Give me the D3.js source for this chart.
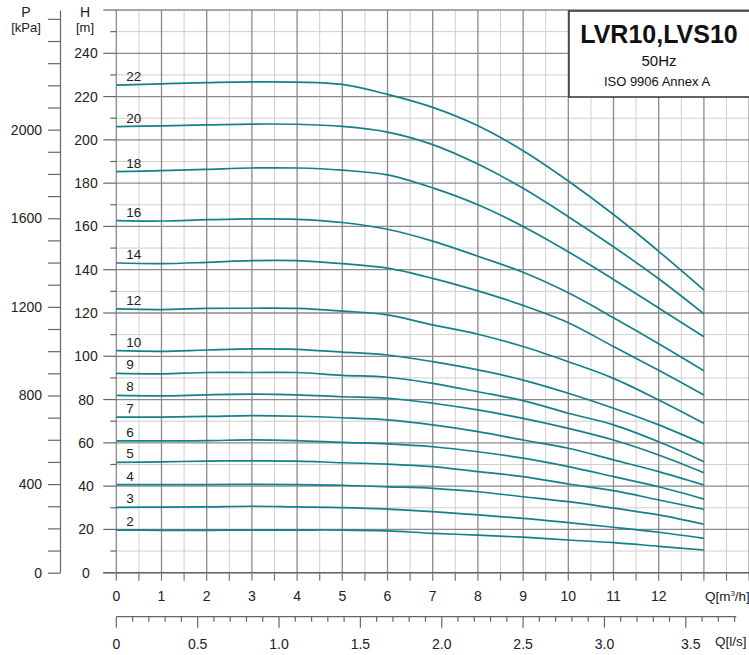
<!DOCTYPE html>
<html>
<head>
<meta charset="utf-8">
<script src="https://cdn.jsdelivr.net/npm/d3@7"></script>
<style>
  html, body { margin: 0; padding: 0; background: #fff; }
  svg { display: block; font-family: "Liberation Sans", Arial, Helvetica, sans-serif; }
</style>
</head>
<body>
<svg id="chart" width="749" height="655"></svg>
<script>
// ---- data ----
const flowQ = [0, 1, 2, 3, 4, 5, 6, 7, 8, 9, 10, 11, 12, 13]; // m3/h
const stages = [22, 20, 18, 16, 14, 12, 10, 9, 8, 7, 6, 5, 4, 3, 2];
const head22 = [225.3, 225.9, 226.4, 226.8, 226.7, 225.6, 221.0, 215.0, 206.5, 195.0, 181.0, 165.5, 148.5, 130.6];
const head20 = [206.1, 206.5, 206.9, 207.3, 207.2, 206.2, 203.6, 197.8, 188.8, 177.6, 164.5, 150.6, 135.8, 119.6];
const head18 = [185.3, 185.8, 186.4, 187.0, 187.0, 186.0, 183.8, 177.8, 170.0, 160.0, 148.3, 135.5, 122.3, 109.0];
const head16 = [162.7, 162.5, 163.1, 163.5, 163.3, 161.8, 158.7, 153.2, 146.2, 138.8, 129.3, 117.8, 105.8, 93.3];
const head14 = [143.1, 142.8, 143.4, 144.2, 144.2, 142.8, 140.7, 136.0, 130.2, 123.5, 115.5, 104.5, 93.5, 82.1];
const head12 = [121.9, 121.6, 122.1, 122.2, 122.1, 120.9, 119.1, 114.5, 110.2, 104.5, 97.5, 89.8, 79.8, 69.0];
const head10 = [102.6, 102.3, 102.9, 103.4, 103.2, 101.9, 100.6, 97.5, 93.7, 89.0, 82.9, 76.0, 68.3, 59.5];
const head9  = [92.1, 91.9, 92.5, 92.5, 92.5, 91.2, 90.3, 87.5, 83.6, 79.5, 73.7, 68.3, 60.5, 51.3];
const head8  = [81.9, 81.7, 82.2, 82.5, 82.2, 81.3, 80.6, 78.3, 75.2, 71.3, 66.7, 61.3, 54.4, 46.2];
const head7  = [71.9, 71.9, 72.2, 72.6, 72.3, 71.6, 70.6, 68.3, 65.2, 61.3, 57.5, 52.1, 46.7, 40.5];
const head6  = [60.9, 60.9, 61.0, 61.4, 61.0, 60.2, 59.5, 58.2, 55.9, 52.9, 49.0, 44.4, 39.7, 34.0];
const head5  = [51.0, 51.2, 51.6, 51.7, 51.6, 50.8, 50.2, 49.0, 46.7, 44.4, 41.0, 37.9, 33.6, 29.3];
const head4  = [40.7, 40.7, 40.7, 40.8, 40.7, 40.4, 39.7, 39.0, 37.4, 35.1, 32.8, 29.8, 26.7, 22.4];
const head3  = [30.2, 30.3, 30.4, 30.7, 30.4, 30.1, 29.4, 28.2, 26.7, 25.1, 23.1, 21.0, 18.7, 15.9];
const head2  = [19.7, 19.6, 19.6, 19.7, 19.7, 19.7, 19.3, 18.2, 17.4, 16.4, 15.1, 13.9, 12.2, 10.5];
const headByStage = [head22, head20, head18, head16, head14, head12, head10, head9, head8, head7, head6, head5, head4, head3, head2];

const hTicks = d3.range(0, 261, 10);
const hLabels = d3.range(0, 241, 20);
const pTicks = d3.range(0, 2501, 100);
const pLabels = [0, 400, 800, 1200, 1600, 2000];
const qTicks = d3.range(0, 14.01, 0.5);
const qLabels = [0, 1, 2, 3, 4, 5, 6, 7, 8, 9, 10, 11, 12];
const lsTicks = d3.range(0, 3.81, 0.1).map(v => +v.toFixed(1));
const lsLabels = ["0", "0.5", "1.0", "1.5", "2.0", "2.5", "3.0", "3.5"];
const titleLines = ["LVR10,LVS10", "50Hz", "ISO 9906 Annex A"];

// ---- layout ----
const W = 749, H = 655;
const x0 = 116.3, x14 = 749.1;
const y0 = 572.7, yTop = 10;
const FS = 14;

const svg = d3.select("#chart");
const x = d3.scaleLinear().domain([0, 14]).range([x0, x14]);
const xls = d3.scaleLinear().domain([0, 14 / 3.6]).range([x0, x14]);
const y = d3.scaleLinear().domain([0, 260]).range([y0, yTop]);
const p = d3.scaleLinear().domain([0, 2540]).range([y0, yTop]);

const darkGrid = "#8a8a8a", lightGrid = "#cfcfcf", ink = "#222";

// grid - light first
const grid = svg.append("g");
grid.selectAll("line.vl").data(qTicks.filter(d => !Number.isInteger(d))).enter().append("line")
  .attr("x1", d => x(d)).attr("x2", d => x(d)).attr("y1", yTop).attr("y2", y0)
  .attr("stroke", lightGrid).attr("stroke-width", 1);
grid.selectAll("line.hl").data(hTicks.filter(d => d % 20 !== 0)).enter().append("line")
  .attr("x1", x0).attr("x2", W).attr("y1", d => y(d)).attr("y2", d => y(d))
  .attr("stroke", lightGrid).attr("stroke-width", 1);
grid.selectAll("line.vd").data(qTicks.filter(d => Number.isInteger(d))).enter().append("line")
  .attr("x1", d => x(d)).attr("x2", d => x(d)).attr("y1", yTop).attr("y2", y0)
  .attr("stroke", darkGrid).attr("stroke-width", 1.3);
grid.selectAll("line.hd").data(hTicks.filter(d => d % 20 === 0)).enter().append("line")
  .attr("x1", x0).attr("x2", W).attr("y1", d => y(d)).attr("y2", d => y(d))
  .attr("stroke", darkGrid).attr("stroke-width", 1.3);

// H ticks left of plot
svg.append("g").selectAll("line").data(hTicks).enter().append("line")
  .attr("x1", d => d % 20 === 0 ? x0 - 13 : x0 - 6).attr("x2", x0)
  .attr("y1", d => y(d)).attr("y2", d => y(d))
  .attr("stroke", "#666").attr("stroke-width", 1.2);
svg.append("g").selectAll("text").data(hLabels).enter().append("text")
  .attr("x", 86).attr("y", d => y(d) + 5).attr("text-anchor", "middle")
  .attr("font-size", FS).attr("fill", ink).text(d => d);
// bottom axis baseline
svg.append("line").attr("x1", x0 - 13).attr("x2", W).attr("y1", y0).attr("y2", y0)
  .attr("stroke", "#666").attr("stroke-width", 1.5);

// P axis
const pAxis = d3.axisLeft(p).tickValues(pTicks).tickSize(12).tickSizeOuter(0).tickPadding(6)
  .tickFormat(d => pLabels.includes(d) ? d : "");
const pg = svg.append("g").attr("transform", "translate(60,0)").call(pAxis);
pg.select(".domain").attr("stroke", "#666").attr("stroke-width", 1.2);
pg.selectAll(".tick line").attr("stroke", "#666").attr("stroke-width", 1.2);
pg.selectAll(".tick text").attr("font-size", FS).attr("fill", ink)
  .attr("font-family", "'Liberation Sans', Arial, sans-serif");

// axis titles
const at = svg.append("g").attr("font-size", 13).attr("fill", ink).attr("text-anchor", "middle");
at.append("text").attr("x", 26).attr("y", 17).attr("font-size", 14).text("P");
at.append("text").attr("x", 26).attr("y", 32).text("[kPa]");
at.append("text").attr("x", 85).attr("y", 17).attr("font-size", 14).text("H");
at.append("text").attr("x", 85).attr("y", 32).text("[m]");

// Q m3/h axis ticks
svg.append("g").selectAll("line").data(qTicks).enter().append("line")
  .attr("x1", d => x(d)).attr("x2", d => x(d)).attr("y1", y0).attr("y2", y0 + 8)
  .attr("stroke", "#777").attr("stroke-width", 1.2);
svg.append("g").selectAll("text").data(qLabels).enter().append("text")
  .attr("x", d => x(d)).attr("y", y0 + 28.5).attr("text-anchor", "middle")
  .attr("font-size", FS).attr("fill", ink).text(d => d);
const ql = svg.append("text").attr("x", x(13) + 1).attr("y", y0 + 28.5)
  .attr("font-size", 13.5).attr("fill", ink);
ql.append("tspan").text("Q[m");
ql.append("tspan").attr("font-size", 8).attr("dy", -5).text("3");
ql.append("tspan").attr("dy", 5).text("/h]");

// Q l/s axis
const ly = 616.7;
svg.append("line").attr("x1", x0).attr("x2", xls(3.81)).attr("y1", ly).attr("y2", ly)
  .attr("stroke", "#666").attr("stroke-width", 1.2);
svg.append("g").selectAll("line").data(lsTicks).enter().append("line")
  .attr("x1", d => xls(d)).attr("x2", d => xls(d)).attr("y1", ly)
  .attr("y2", d => Math.abs(d * 2 - Math.round(d * 2)) < 1e-6 ? ly + 11 : ly + 5)
  .attr("stroke", "#666").attr("stroke-width", 1.2);
svg.append("g").selectAll("text").data(lsLabels).enter().append("text")
  .attr("x", d => xls(+d) + (d === "3.5" ? 5 : 0)).attr("y", 648.5).attr("text-anchor", "middle")
  .attr("font-size", FS).attr("fill", ink).text(d => d);
svg.append("text").attr("x", 715).attr("y", 645.5).attr("font-size", 13.5).attr("fill", ink).text("Q[l/s]");

// curves
const line = d3.line().x((d, i) => x(flowQ[i])).y(d => y(d)).curve(d3.curveCatmullRom.alpha(0.5));
svg.append("g").selectAll("path").data(headByStage).enter().append("path")
  .attr("d", d => line(d)).attr("fill", "none")
  .attr("stroke", "#15808a").attr("stroke-width", 1.7);

// stage labels
svg.append("g").selectAll("text").data(stages).enter().append("text")
  .attr("x", x(0.22)).attr("y", (d, i) => y(headByStage[i][0]) - 4)
  .attr("font-size", 13.5).attr("fill", ink).text(d => d);

// title box
const tb = svg.append("g");
tb.append("rect").attr("x", 569).attr("y", 11).attr("width", 200).attr("height", 86)
  .attr("fill", "#fff").attr("stroke", "#333").attr("stroke-width", 1.5);
tb.append("text").attr("x", 659).attr("y", 43).attr("text-anchor", "middle")
  .attr("font-size", 25).attr("font-weight", "bold").attr("fill", "#111").text(titleLines[0]);
tb.append("text").attr("x", 659).attr("y", 66).attr("text-anchor", "middle")
  .attr("font-size", 15).attr("fill", "#111").text(titleLines[1]);
tb.append("text").attr("x", 657).attr("y", 86).attr("text-anchor", "middle")
  .attr("font-size", 13).attr("fill", "#111").text(titleLines[2]);
</script>
</body>
</html>
